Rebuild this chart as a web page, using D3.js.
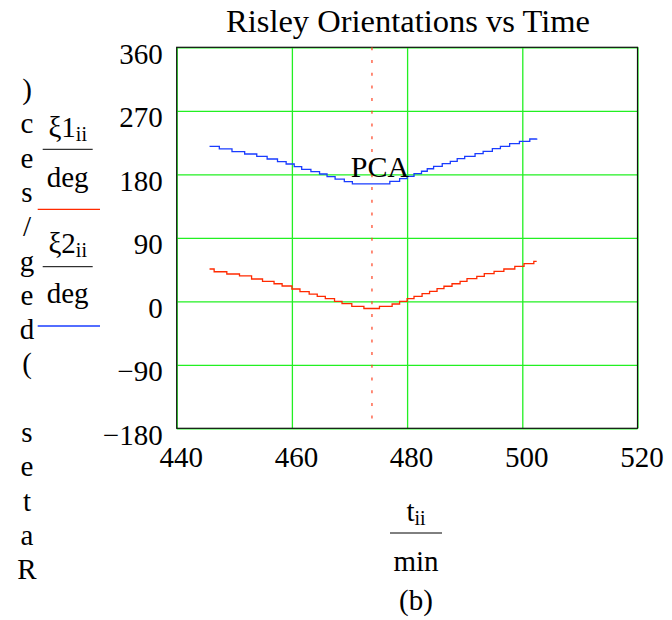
<!DOCTYPE html>
<html>
<head>
<meta charset="utf-8">
<script src="https://cdn.jsdelivr.net/npm/d3@7"></script>
<style>
  body { margin: 0; background: #fff; }
  svg { font-family: "Liberation Serif", "Times New Roman", serif; }
</style>
</head>
<body>
<svg id="chart" width="672" height="620"></svg>
<script>
// step traces (time in min, angle in deg)
var xi1T = [445.7, 446.5, 448.7, 450.9, 453.0, 454.9, 456.9, 458.3, 460.0, 461.4, 463.0, 464.4, 465.8, 467.4, 468.7, 470.4, 472.5, 475.2, 477.4, 478.7, 480.0, 481.2, 482.6, 483.9, 485.2, 486.4, 487.8, 489.2, 490.4, 492.1, 493.4, 495.1, 496.8, 498.7, 500.3, 502.0, 502.5]
var xi1V = [45.8, 41.9, 38.7, 35.9, 31.6, 28.3, 24.9, 21.7, 17.4, 13.6, 10.3, 7.1, 3.7, 0.0, -3.4, -7.1, -10.2, -7.1, -3.8, 0.0, 3.7, 7.1, 10.8, 14.2, 17.9, 21.3, 24.9, 28.3, 32.0, 35.4, 39.1, 42.5, 45.8, 49.6, 53.3, 56.7, 56.7]

var xi2T = [445.7, 447.4, 449.6, 451.8, 453.9, 455.7, 457.5, 459.0, 460.4, 461.7, 463.3, 464.8, 466.1, 467.5, 469.1, 470.5, 477.0, 478.7, 480.0, 481.2, 482.5, 483.5, 484.6, 486.1, 487.5, 488.7, 490.0, 491.8, 493.2, 494.8, 496.2, 497.8, 499.5, 501.3, 502.5]
var xi2V = [219.7, 215.9, 212.0, 208.8, 205.5, 201.7, 197.9, 194.6, 190.8, 187.1, 183.7, 180.4, 176.6, 173.3, 169.5, 166.3, 170.1, 173.8, 177.2, 180.9, 184.3, 187.9, 191.3, 195.0, 198.4, 202.1, 205.5, 209.2, 212.6, 216.3, 219.7, 223.4, 226.8, 230.0, 230.6]

var xTicks = [440, 460, 480, 500, 520]
var yTicks = [-180, -90, 0, 90, 180, 270, 360]
var pcaT = 473.9
var yLabelChars = ")ces/ged( setaR".split("")

var dims = { width: 672, height: 620, left: 176.7, right: 637.5, top: 47.3, bottom: 428.3 }
var fs = 29

var svg = d3.select("#chart")

var xScale = d3.scaleLinear().domain([440, 520]).range([dims.left, dims.right])
var yScale = d3.scaleLinear().domain([-180, 360]).range([dims.bottom, dims.top])

// grid
var xGrid = svg.append("g")
    .attr("transform", `translate(0,${dims.bottom})`)
    .call(d3.axisBottom(xScale).tickValues(xTicks).tickSize(-(dims.bottom - dims.top)).tickFormat(""))
xGrid.select(".domain").remove()
xGrid.selectAll("line").attr("stroke", "#22f022").attr("stroke-width", 1.3)

var yGrid = svg.append("g")
    .attr("transform", `translate(${dims.left},0)`)
    .call(d3.axisLeft(yScale).tickValues(yTicks).tickSize(-(dims.right - dims.left)).tickFormat(""))
yGrid.select(".domain").remove()
yGrid.selectAll("line").attr("stroke", "#22f022").attr("stroke-width", 1.3)

// frame
svg.append("rect")
    .attr("x", dims.left).attr("y", dims.top)
    .attr("width", dims.right - dims.left).attr("height", dims.bottom - dims.top)
    .attr("fill", "none").attr("stroke", "#111").attr("stroke-width", 1.2)

// tick labels
var xAxis = svg.append("g")
    .attr("transform", `translate(0,${dims.bottom})`)
    .call(d3.axisBottom(xScale).tickValues(xTicks).tickSize(0))
xAxis.select(".domain").remove()
xAxis.attr("font-family", null)
xAxis.selectAll("text").attr("font-size", fs)
    .attr("fill", "#000").attr("dy", null).attr("y", 39).attr("dx", 4)

var yAxis = svg.append("g")
    .attr("transform", `translate(${dims.left},0)`)
    .call(d3.axisLeft(yScale).tickValues(yTicks).tickSize(0))
yAxis.select(".domain").remove()
yAxis.attr("font-family", null)
yAxis.selectAll("text").attr("font-size", fs)
    .attr("fill", "#000").attr("dy", 16).attr("x", -14)

// PCA marker
svg.append("line")
    .attr("x1", xScale(pcaT)).attr("x2", xScale(pcaT))
    .attr("y1", dims.top).attr("y2", dims.bottom)
    .attr("stroke", "#ff4020").attr("stroke-width", 1.2)
    .attr("stroke-dasharray", "3,9.7")

// traces
var line = d3.line()
    .x(d => xScale(d[0]))
    .y(d => yScale(d[1]))
    .curve(d3.curveStepAfter)

svg.append("path")
    .datum(d3.zip(xi1T, xi1V))
    .attr("d", line)
    .attr("fill", "none").attr("stroke", "#ff2a00").attr("stroke-width", 1.3)

svg.append("path")
    .datum(d3.zip(xi2T, xi2V))
    .attr("d", line)
    .attr("fill", "none").attr("stroke", "#1a3cff").attr("stroke-width", 1.3)

svg.append("text")
    .attr("x", xScale(pcaT) + 8).attr("y", yScale(180) + 2.5)
    .attr("text-anchor", "middle").attr("font-size", 30)
    .text("PCA")

// title
svg.append("text")
    .attr("x", 408).attr("y", 32)
    .attr("text-anchor", "middle").attr("font-size", 32.5)
    .text("Risley Orientations vs Time")

// rotated y label, one upright char per row
svg.append("g").selectAll("text")
    .data(yLabelChars)
    .enter()
    .append("text")
    .attr("x", 27)
    .attr("y", (d, i) => 99 + i * 34.3)
    .attr("text-anchor", "middle")
    .attr("font-size", fs)
    .text(d => d)

// legend fractions
function fraction(g, cx, yNum, yLine, yDen, main, sub, den, lineW) {
    var t = g.append("text").attr("x", cx).attr("y", yNum).attr("text-anchor", "middle").attr("font-size", fs)
    t.append("tspan").text(main)
    if (sub) t.append("tspan").attr("font-size", 20).attr("dy", 4).text(sub)
    g.append("line").attr("x1", cx - lineW / 2).attr("x2", cx + lineW / 2)
        .attr("y1", yLine).attr("y2", yLine).attr("stroke", "#000").attr("stroke-width", 1)
    g.append("text").attr("x", cx).attr("y", yDen).attr("text-anchor", "middle").attr("font-size", fs).text(den)
}

var legend = svg.append("g")
fraction(legend, 67.7, 136.5, 149.3, 186.7, "ξ1", "ii", "deg", 50)
legend.append("line").attr("x1", 37.7).attr("x2", 100).attr("y1", 209.3).attr("y2", 209.3)
    .attr("stroke", "#ff2a00").attr("stroke-width", 1.3)
fraction(legend, 67.7, 253, 266.7, 302.5, "ξ2", "ii", "deg", 50)
legend.append("line").attr("x1", 37.7).attr("x2", 100).attr("y1", 326).attr("y2", 326)
    .attr("stroke", "#1a3cff").attr("stroke-width", 1.3)

// x label
var xl = svg.append("g")
fraction(xl, 416, 521, 533, 571, "t", "ii", "min", 52)
svg.append("text").attr("x", 416).attr("y", 610).attr("text-anchor", "middle")
    .attr("font-size", fs).text("(b)")
</script>
</body>
</html>
